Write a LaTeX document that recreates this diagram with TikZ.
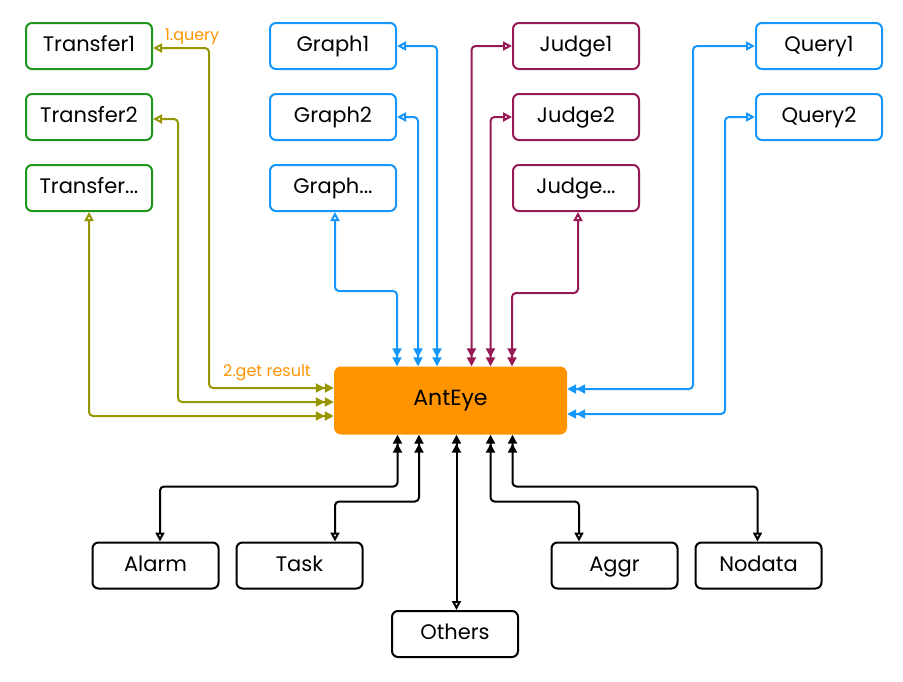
\documentclass[tikz,border=0pt]{standalone}
\usepackage{fontspec}
\setmainfont{Poppins}
\usetikzlibrary{arrows.meta,positioning,calc}

\definecolor{boxgreen}{RGB}{30,150,30}
\definecolor{linkolive}{RGB}{150,150,0}
\definecolor{linkblue}{RGB}{20,150,250}
\definecolor{linkred}{RGB}{150,25,85}
\definecolor{eyeorange}{RGB}{255,148,0}

\begin{document}
\begin{tikzpicture}[
    x=1pt, y=-1pt,
    node distance=23pt and 16pt,
    box/.style={rectangle, draw, rounded corners=6pt, line width=2pt, minimum width=126pt, minimum height=46pt, text height=15pt, text depth=4pt, font=\fontsize{21}{24}\selectfont},
    link/.style={line width=2pt, rounded corners=4pt, {Triangle[open,length=9pt,width=9pt]}-{Triangle[length=9pt,width=9pt]Triangle[length=9pt,width=9pt]}},
    note/.style={text=eyeorange, font=\fontsize{16}{19}\selectfont, inner sep=0pt}
]
\useasboundingbox (0,0) rectangle (903,681);

% centre
\node[rectangle, fill=eyeorange, rounded corners=7pt, minimum width=233pt, minimum height=68pt, font=\fontsize{22}{26}\selectfont] (ant) at (450.5,400.5) {AntEye};

% top columns
\node[box, draw=boxgreen] (t1) at (89,46) {Transfer1};
\node[box, draw=boxgreen, below=of t1] (t2) {Transfer2};
\node[box, draw=boxgreen, below=of t2] (t3) {Transfer...};
\node[box, draw=linkblue] (g1) at (333,46) {Graph1};
\node[box, draw=linkblue, below=of g1] (g2) {Graph2};
\node[box, draw=linkblue, below=of g2] (g3) {Graph...};
\node[box, draw=linkred] (j1) at (576,46) {Judge1};
\node[box, draw=linkred, below=of j1] (j2) {Judge2};
\node[box, draw=linkred, below=of j2] (j3) {Judge...};
\node[box, draw=linkblue] (q1) at (819,46) {Query1};
\node[box, draw=linkblue, below=of q1] (q2) {Query2};

% bottom row
\node[box] (alarm) at (155.5,565.5) {Alarm};
\node[box, right=of alarm] (task) {Task};
\node[box] (aggr) at (614.5,565.5) {Aggr};
\node[box, right=of aggr] (nodata) {Nodata};
\node[box] (others) at (455,634) {Others};

% labels
\node[note] (lquery) at (192,37) {1.query};
\node[note] (lresult) at (267,373) {2.get result};

% transfer links
\draw[link, linkolive] ([yshift=-2pt]t1.east) -- ++(56,0) |- ([yshift=12.5pt]ant.west);
\draw[link, linkolive] ([yshift=-2pt]t2.east) -- ++(25,0) |- ([yshift=-1.5pt]ant.west);
\draw[link, linkolive] (t3.south) |- ([yshift=-15.5pt]ant.west);

% graph links
\draw[link, linkblue] (g1.east) -| ([xshift=-13.5pt]ant.north);
\draw[link, linkblue] (g2.east) -| ([xshift=-32.5pt]ant.north);
\draw[link, linkblue] ([xshift=2pt]g3.south) -- ++(0,79) -| ([xshift=-53.5pt]ant.north);

% judge links
\draw[link, linkred] (j1.west) -| ([xshift=21pt]ant.north);
\draw[link, linkred] (j2.west) -| ([xshift=40pt]ant.north);
\draw[link, linkred] ([xshift=2pt]j3.south) -- ++(0,81) -| ([xshift=61.5pt]ant.north);

% query links
\draw[link, linkblue] (q1.west) -- ++(-62,0) |- ([yshift=11.5pt]ant.east);
\draw[link, linkblue] (q2.west) -- ++(-30,0) |- ([yshift=-13.5pt]ant.east);

% bottom links
\draw[link] ([xshift=4.5pt]alarm.north) -- ++(0,-55) -| ([xshift=-53pt]ant.south);
\draw[link] ([xshift=35.5pt]task.north) -- ++(0,-40) -| ([xshift=-31.5pt]ant.south);
\draw[link] ([xshift=1.5pt]others.north) -- ([xshift=1.5pt]others.north |- ant.south);
\draw[link] ([xshift=-35.5pt]aggr.north) -- ++(0,-40) -| ([xshift=40pt]ant.south);
\draw[link] ([xshift=-1pt]nodata.north) -- ++(0,-55) -| ([xshift=62pt]ant.south);

\end{tikzpicture}
\end{document}
